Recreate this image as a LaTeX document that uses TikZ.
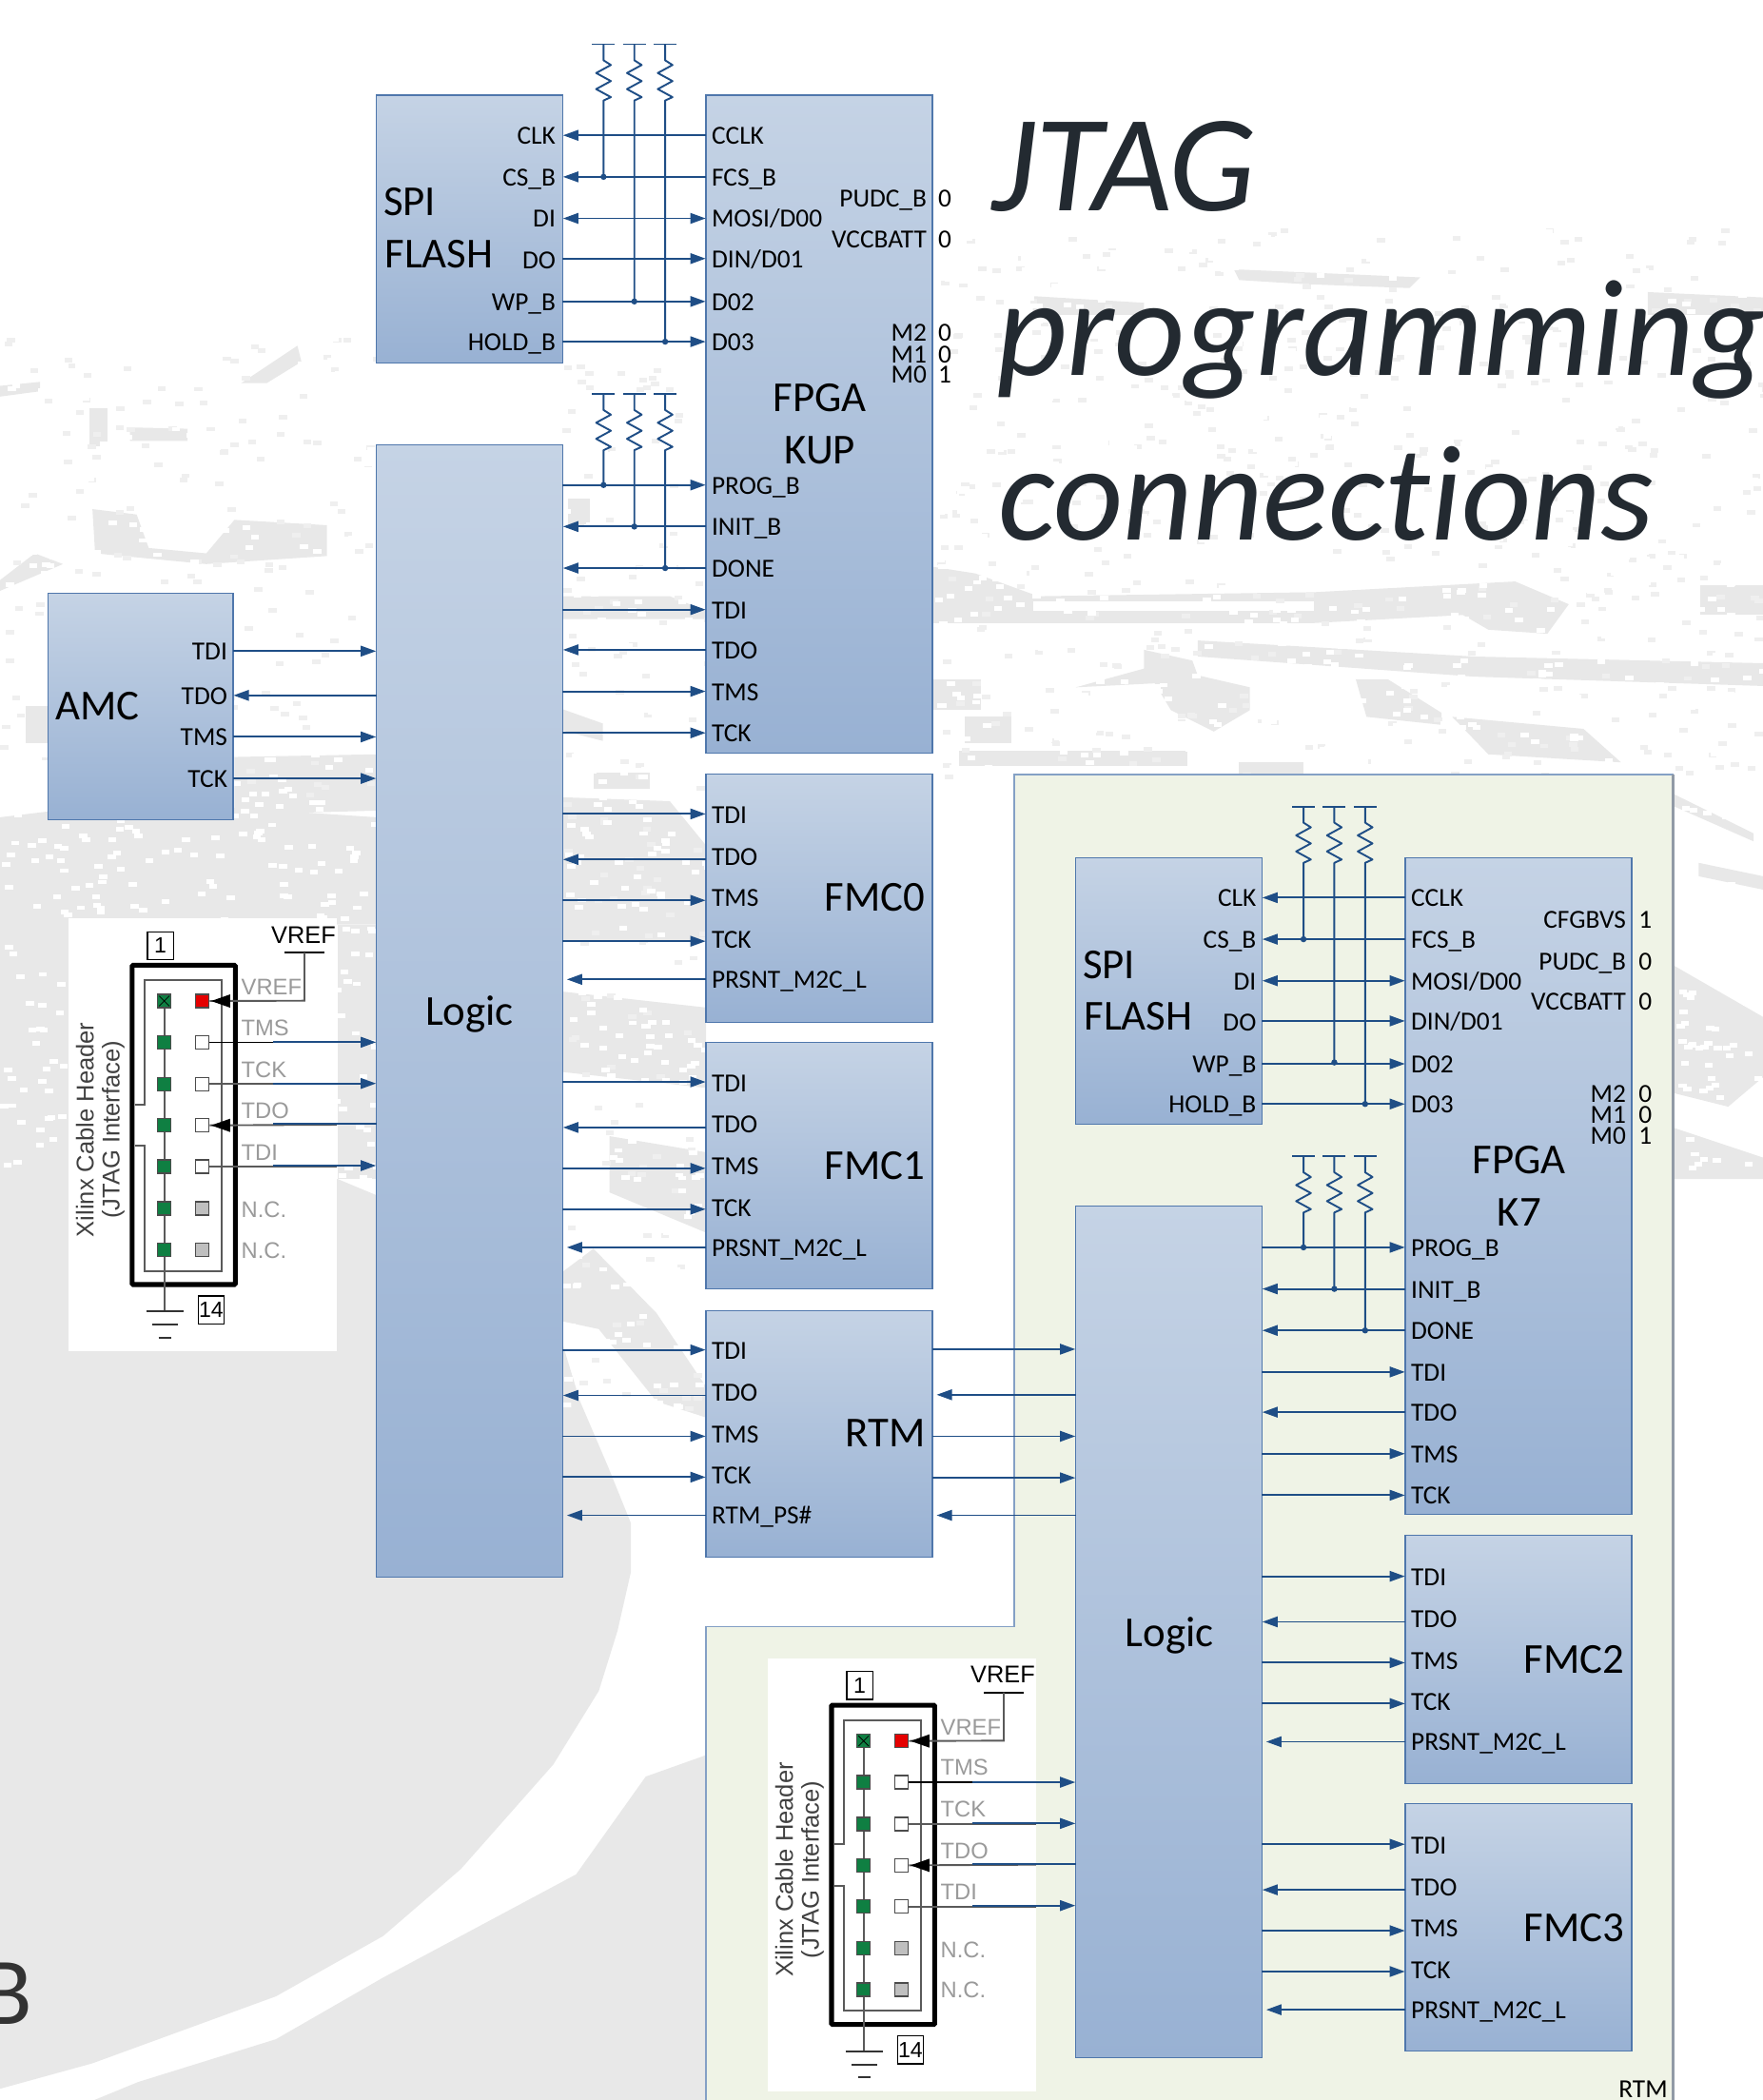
\documentclass[tikz,border=0pt]{standalone}
\usepackage{fontspec}
\setmainfont{Carlito}
\newfontfamily\hfont{Liberation Sans}
\usetikzlibrary{arrows.meta,fit,calc}
\definecolor{wire}{HTML}{1F4E86}
\definecolor{btop}{HTML}{C5D3E5}
\definecolor{bbot}{HTML}{98B1D3}
\definecolor{bedge}{HTML}{4F77AC}
\definecolor{panel}{HTML}{EFF3E6}
\definecolor{bgg}{HTML}{E8E8E8}
\definecolor{hgray}{HTML}{5A5A5A}
\definecolor{hlab}{HTML}{9A9A9A}
\definecolor{hgreen}{HTML}{0F7F42}
\definecolor{ttlc}{HTML}{232A31}
\tikzset{
  block/.style={shade,top color=btop,bottom color=bbot,draw=bedge,line width=.6pt,inner sep=0pt,outer sep=0pt},
  conn/.style={draw=wire,line width=.95pt},
  ar/.style={conn,-{Triangle[length=8pt,width=5.5pt]},shorten >=.2pt},
  arg/.style={conn,-{Triangle[length=8pt,width=5.5pt]},shorten >=2.2pt},
  arb/.style={conn,{Triangle[length=8pt,width=5.5pt]}-{Triangle[length=8pt,width=5.5pt]},shorten >=.2pt,shorten <=.2pt},
  junc/.style={circle,fill=wire,inner sep=0pt,minimum size=3.2pt},
  pl/.style={anchor=west,inner sep=0pt,font=\fontsize{13.6}{14}\selectfont,text height=13pt,text depth=3.6pt},
  pr/.style={anchor=east,inner sep=0pt,font=\fontsize{13.6}{14}\selectfont,text height=13pt,text depth=3.6pt},
  ml/.style={anchor=west,inner sep=0pt,font=\fontsize{13.6}{14}\selectfont,text height=9.4pt,text depth=0pt},
  mr/.style={anchor=east,inner sep=0pt,font=\fontsize{13.6}{14}\selectfont,text height=9.4pt,text depth=0pt},
  big/.style={inner sep=0pt,font=\fontsize{22.3}{24}\selectfont,text height=14.6pt,text depth=.5pt},
  bg/.style={fill=bgg,draw=none},
  hbox/.style={draw=black,line width=.6pt,inner sep=0pt,minimum width=13.5pt,minimum height=14.5pt,font=\hfont\fontsize{11.5}{11}\selectfont},
  hl/.style={anchor=west,inner sep=0pt,text=hlab,font=\hfont\fontsize{11.8}{12}\selectfont},
  pg/.style={draw=black!70,fill=hgreen,line width=.6pt,minimum size=7pt,inner sep=0pt},
  pw/.style={draw=black!70,fill=white,line width=.6pt,minimum size=7pt,inner sep=0pt},
  pn/.style={draw=black!70,fill=black!25,line width=.6pt,minimum size=7pt,inner sep=0pt},
  pd/.style={draw=black!70,fill=red!90!black,line width=.6pt,minimum size=7pt,inner sep=0pt},
  lw/.style={draw=hgray,line width=.95pt},
  ttl/.style={anchor=base west,inner sep=0pt,text=ttlc}
}
\newfontfamily\ttlfont[Ligatures=NoCommon]{Carlito}
\newcommand\blk[5]{\node[block,fit={(#2,#3)(#4,#5)}] (#1) {};}
% pull-up: name, x, bar y, pin node
\newcommand\pull[4]{%
  \coordinate (#1t) at (#2,#3);
  \coordinate (#1j) at (#2,#4);
  \draw[conn] ($(#1t)+(-8.5,0)$) -- ($(#1t)+(8.5,0)$);
  \draw[conn,line join=round] (#1t) -- ++(0,12) -- ++(5.5,3.5) -- ++(-11,6) -- ++(11,6) -- ++(-11,6) -- ++(11,6) -- ++(-5.5,2.5) -- (#1j);
  \node[junc] at (#1j) {};
}
% Xilinx header
\newcommand\xheader[3]{%
\begin{scope}[shift={(#2,#3)},x=.1657pt,y=-.1657pt]
  \fill[white] (37,45) rectangle (882,1410);
  \node[hbox] at (326,131) {1};
  \node[hbox] at (486,1280) {14};
  \draw[black,line width=2.5pt,rounded corners=.5pt] (237,193) rectangle (562,1200);
  \draw[lw] (245,632) -- (277,632) -- (277,240) -- (520,240) -- (520,1157) -- (277,1157) -- (277,762) -- (245,762);
  \draw[lw] (338,306) -- (338,1285);
  \draw[black!80,line width=.9pt] (282,1285) -- (398,1285) (300,1327) -- (380,1327) (320,1367) -- (360,1367);
  \foreach \n/\y in {1/306,2/436,3/568,4/698,5/828,6/960,7/1090} \node[pg] (#1l\n) at (338,\y) {};
  \draw[black,line width=.4pt] (322,290) -- (354,322) (322,322) -- (354,290);
  \node[pd] (#1VR) at (458,306) {};
  \node[pw] (#1TMS) at (458,436) {};
  \node[pw] (#1TCK) at (458,568) {};
  \node[pw] (#1TDO) at (458,698) {};
  \node[pw] (#1TDI) at (458,828) {};
  \node[pn] (#1NCa) at (458,960) {};
  \node[pn] (#1NCb) at (458,1090) {};
  \draw[black,line width=1.1pt] (718,153) -- (842,153);
  \coordinate (#1vt) at (780,153);
  \draw[lw] (#1vt) -- (780,305) -- (#1VR.east);
  \fill[black] (#1VR.east) ++(5,0) -- ++(60,-21) -- ++(0,42) -- cycle;
  \draw[black,line width=.7pt] (#1TMS.east) -- (682,436);
  \draw[lw] (#1TCK.east) -- (882,568);
  \draw[lw] (#1TDO.east) -- (882,696);
  \fill[black] (#1TDO.east) ++(5,0) -- ++(60,-21) -- ++(0,42) -- cycle;
  \draw[lw] (#1TDI.east) -- (882,828);
  \coordinate (#1bTMS) at (682,436);
  \coordinate (#1bTCK) at (682,566);
  \coordinate (#1bTDO) at (682,694);
  \coordinate (#1bTDI) at (682,825);
  \node[anchor=center,inner sep=0pt,font=\hfont\fontsize{12.6}{13}\selectfont] at (777,97) {VREF};
  \node[hl] at (580,262) {VREF};
  \node[hl] at (580,390) {TMS};
  \node[hl] at (580,522) {TCK};
  \node[hl] at (580,652) {TDO};
  \node[hl] at (580,783) {TDI};
  \node[hl] at (580,965) {N.C.};
  \node[hl] at (580,1092) {N.C.};
  \node[rotate=90,inner sep=0pt,text=black!75,font=\hfont\fontsize{12.7}{13}\selectfont] at (88,712) {Xilinx Cable Header};
  \node[rotate=90,inner sep=0pt,text=black!75,font=\hfont\fontsize{12.7}{13}\selectfont] at (177,712) {(JTAG Interface)};
\end{scope}}
\begin{document}
\begin{tikzpicture}[x=.7pt,y=-.7pt]
\useasboundingbox (0,0) rectangle (1316,1567.4);
\clip (0,0) rectangle (1316,1567.4);
\fill[white] (0,0) rectangle (1316,1567.4);
% ---------- background map ----------
% solid lower-left land
\fill[bg] (0,880) -- (252,880) -- (300,900) -- (419,1000) -- (433,1046) -- (454,1095) -- (471,1137) -- (471,1173) -- (461,1217) -- (447,1262) -- (413,1317) -- (344,1395) -- (286,1445) -- (206,1490) -- (69,1540) -- (0,1559) -- cycle;
\fill[bg] (527,1310) -- (482,1326) -- (430,1399) -- (344,1445) -- (286,1476) -- (206,1522) -- (103,1554) -- (69,1568) -- (527,1568) -- cycle;
\begin{scope}
\clip (0,200) rectangle (1316,880) (419,880) rectangle (527,1215);
% left
\fill[bg] (0,610) -- (100,598) -- (281,610) -- (281,690) -- (51,690) -- (51,880) -- (0,880) -- cycle;
\fill[bg] (252,690) -- (281,690) -- (281,880) -- (252,880) -- cycle;
\fill[bg] (175,565) -- (281,563) -- (281,605) -- (175,608) -- cycle;
\fill[bg] (67,305) -- (80,305) -- (80,333) -- (67,333) -- cycle;
\fill[bg] (180,286) -- (222,258) -- (225,270) -- (199,286) -- cycle;
\fill[bg] (97,319) -- (140,320) -- (140,329) -- (97,329) -- cycle;
\fill[bg] (69,380) -- (102,384) -- (111,409) -- (154,413) -- (175,388) -- (244,392) -- (244,415) -- (154,421) -- (71,413) -- cycle;
\fill[bg] (26,413) -- (47,421) -- (0,441) -- (0,433) -- cycle;
\fill[bg] (19,527) -- (36,527) -- (36,555) -- (19,555) -- cycle;
\fill[bg] (0,288) -- (30,285) -- (30,292) -- (0,296) -- cycle;
% between blocks
\fill[bg] (424,372) -- (440,372) -- (440,393) -- (424,393) -- cycle;
\fill[bg] (419,445) -- (500,445) -- (527,456) -- (527,462) -- (419,462) -- cycle;
\fill[bg] (419,529) -- (450,540) -- (450,553) -- (419,545) -- cycle;
\fill[bg] (443,577) -- (485,577) -- (485,589) -- (443,589) -- cycle;
\fill[bg] (419,595) -- (500,598) -- (527,631) -- (527,703) -- (419,703) -- cycle;
\fill[bg] (419,740) -- (527,752) -- (527,812) -- (419,800) -- cycle;
\fill[bg] (455,848) -- (527,860) -- (527,920) -- (455,890) -- cycle;
\fill[bg] (419,950) -- (443,932) -- (490,980) -- (527,1035) -- (527,1058) -- (490,1046) -- (447,992) -- (419,986) -- cycle;
% upper right
\fill[bg] (933,173) -- (949,178) -- (1028,183) -- (1028,190) -- (973,187) -- (937,198) -- cycle;
\fill[bg] (921,201) -- (1060,207) -- (1052,215) -- (973,212) -- (925,209) -- cycle;
\fill[bg] (1230,218) -- (1316,222) -- (1316,235) -- (1230,235) -- cycle;
\fill[bg] (771,221) -- (854,226) -- (854,235) -- (771,235) -- cycle;
\fill[bg] (696,423) -- (728,428) -- (775,445) -- (981,442) -- (1131,434) -- (1171,451) -- (1155,473) -- (1111,470) -- (1092,459) -- (981,465) -- (736,465) -- (696,465) -- cycle;
\fill[white] (771,449) -- (981,449) -- (981,456) -- (771,456) -- cycle;
\fill[bg] (894,478) -- (1100,490) -- (1316,495) -- (1316,512) -- (1100,505) -- (894,490) -- cycle;
\fill[bg] (1269,437) -- (1316,437) -- (1316,459) -- (1269,459) -- cycle;
\fill[bg] (1012,507) -- (1036,507) -- (1076,532) -- (1076,541) -- (1020,535) -- cycle;
\fill[bg] (854,485) -- (890,493) -- (894,504) -- (933,513) -- (933,530) -- (906,546) -- (874,530) -- (862,510) -- (803,513) -- (854,499) -- cycle;
\fill[bg] (1084,535) -- (1182,544) -- (1210,569) -- (1111,563) -- cycle;
\fill[bg] (696,507) -- (732,507) -- (732,530) -- (696,530) -- cycle;
\fill[bg] (720,535) -- (755,535) -- (755,555) -- (720,555) -- cycle;
\fill[bg] (716,560) -- (886,560) -- (886,572) -- (716,572) -- cycle;
\fill[bg] (925,569) -- (973,569) -- (973,578) -- (925,578) -- cycle;
% right margin
\fill[bg] (1250,593) -- (1309,622) -- (1309,628) -- (1250,602) -- cycle;
\fill[bg] (1268,644) -- (1316,654) -- (1316,664) -- (1268,654) -- cycle;
\fill[bg] (1250,721) -- (1316,759) -- (1316,804) -- (1290,826) -- (1250,816) -- cycle;
\fill[bg] (1250,842) -- (1316,864) -- (1316,893) -- (1302,934) -- (1250,915) -- cycle;
\end{scope}
\pgfmathsetseed{11}
\foreach \xa/\ya/\xb/\yb/\c/\m in {
  0/250/281/600/bgg!70!white/150,
  420/270/527/1050/bgg!70!white/120,
  696/170/1316/580/bgg!70!white/500,
  0/250/281/880/white/600,
  420/270/527/1050/white/350,
  696/170/1316/580/white/900,
  1250/590/1316/940/white/120}{
  \foreach \i in {1,...,\m}{
    \pgfmathsetmacro\px{\xa+rnd*(\xb-\xa)}
    \pgfmathsetmacro\py{\ya+rnd*(\yb-\ya)}
    \fill[\c] (\px,\py) rectangle ++(6,3.5);
  }
}
% ---------- big text ----------
\node[ttl,font=\ttlfont\itshape\fontsize{72}{72}\selectfont] (t1) at (740,157) {JTAG};
\node[ttl,font=\ttlfont\itshape\fontsize{72}{72}\selectfont] (t2) at (743.5,280) {programming};
\node[ttl,font=\ttlfont\itshape\fontsize{71}{71}\selectfont] (t3) at (745,403) {connections};
\node[anchor=base west,inner sep=0pt,text=black!80,font=\fontsize{50}{50}\selectfont] (bb) at (-15,1511) {B};
% ---------- RTM panel ----------
\draw[fill=panel,draw=bedge!70!white,line width=.7pt] (757,578) -- (1249,578) -- (1249,1575) -- (527,1575) -- (527,1214) -- (757,1214) -- cycle;
\draw[draw=bedge!45!black!50!white,line width=1.3pt] (1249,578) -- (1249,1575);
\node[ml] (rtmtag) at (1208,1559) {RTM};
% ---------- header images ----------
\xheader{ha}{42.6}{674.7}
\xheader{hb}{564.6}{1227}
% ---------- blocks, KUP side ----------
\blk{spi}{281}{71}{420}{271}
\blk{kup}{527}{71}{696}{562}
\blk{logic}{281}{332}{420}{1177}
\blk{amc}{36}{443}{174}{612}
\blk{fmcz}{527}{578}{696}{763}
\blk{fmco}{527}{778}{696}{962}
\blk{rtm}{527}{978}{696}{1162}
% ---------- blocks, K7 side ----------
\blk{spib}{803}{640}{942}{839}
\blk{ksev}{1049}{640}{1218}{1130}
\blk{logicb}{803}{900}{942}{1536}
\blk{fmct}{1049}{1146}{1218}{1331}
\blk{fmcd}{1049}{1346}{1218}{1531}
% big labels
\node[big,anchor=west] at (286,151) {SPI};
\node[big,anchor=west] at (287,190) {FLASH};
\node[big] at (612,297) {FPGA};
\node[big] at (612,336) {KUP};
\node[big] at (350.5,755) {Logic};
\node[big,anchor=west] at (41,527) {AMC};
\node[big,anchor=east] at (691,670) {FMC0};
\node[big,anchor=east] at (691,870) {FMC1};
\node[big,anchor=east] at (691,1070) {RTM};
\node[big,anchor=west] at (808,720) {SPI};
\node[big,anchor=west] at (809,759) {FLASH};
\node[big] at (1134,866) {FPGA};
\node[big] at (1134,905) {K7};
\node[big] at (873,1219) {Logic};
\node[big,anchor=east] at (1213,1239) {FMC2};
\node[big,anchor=east] at (1213,1439) {FMC3};
% ---------- pin labels ----------
\foreach \n/\t/\y in {CCLK/CCLK/101,FCS/FCS\_B/132,MOSI/{MOSI/D00}/163,DIN/{DIN/D01}/193,Dtwo/D02/225,Dthree/D03/255,PROG/PROG\_B/362,INIT/INIT\_B/393,DONE/DONE/424,TDI/TDI/455,TDO/TDO/485,TMS/TMS/516,TCK/TCK/547}{
  \node[pl] (a\n) at (531,\y) {\t};
  \pgfmathsetmacro\yy{\y+569}
  \node[pl] (b\n) at (1053,\yy) {\t};
}
\foreach \n/\t/\y in {CLK/CLK/101,CS/CS\_B/132,DI/DI/163,DO/DO/194,WP/WP\_B/225,HOLD/HOLD\_B/255}{
  \node[pr] (s\n) at (415,\y) {\t};
  \pgfmathsetmacro\yy{\y+569}
  \node[pr] (t\n) at (938,\yy) {\t};
}
\foreach \n/\t/\y/\v in {PUDC/PUDC\_B/148/0,VCC/VCCBATT/178/0}{
  \node[pr] (a\n) at (692,\y) {\t};
  \node[pl] (av\n) at (700,\y) {\v};
}
\foreach \n/\t/\y/\v in {Mtwo/M2/248/0,Mone/M1/264/0,Mzero/M0/279/1}{
  \node[mr] (a\n) at (692,\y) {\t};
  \node[ml] (av\n) at (700,\y) {\v};
}
\foreach \n/\t/\y/\v in {CFG/CFGBVS/686/1,PUDC/PUDC\_B/717/0,VCC/VCCBATT/747/0}{
  \node[pr] (b\n) at (1214,\y) {\t};
  \node[pl] (bv\n) at (1223,\y) {\v};
}
\foreach \n/\t/\y/\v in {Mtwo/M2/816/0,Mone/M1/832/0,Mzero/M0/847/1}{
  \node[mr] (b\n) at (1214,\y) {\t};
  \node[ml] (bv\n) at (1223,\y) {\v};
}
\foreach \n/\t/\y in {TDI/TDI/486,TDO/TDO/519,TMS/TMS/550,TCK/TCK/581}{
  \node[pr] (m\n) at (170,\y) {\t};
}
% FMC style rows
\foreach \p/\o/\last in {c/0/PRSNT\_M2C\_L,d/200/PRSNT\_M2C\_L,e/400/RTM\_PS\#}{
  \foreach \n/\t/\y in {TDI/TDI/608,TDO/TDO/639,TMS/TMS/670,TCK/TCK/701,PR/\last/731}{
    \pgfmathsetmacro\yy{\y+\o}
    \node[pl] (\p\n) at (531,\yy) {\t};
  }
}
\foreach \p/\o in {f/0,g/200}{
  \foreach \n/\t/\y in {TDI/TDI/1177,TDO/TDO/1208,TMS/TMS/1239,TCK/TCK/1270,PR/PRSNT\_M2C\_L/1300}{
    \pgfmathsetmacro\yy{\y+\o}
    \node[pl] (\p\n) at (1053,\yy) {\t};
  }
}
% ---------- connectors, SPI to FPGA ----------
\draw[ar] (aCCLK.west -| kup.west) -- (aCCLK.west -| spi.east);
\draw[ar] (aFCS.west -| kup.west) -- (aFCS.west -| spi.east);
\draw[arb] (aMOSI.west -| spi.east) -- (aMOSI.west -| kup.west);
\draw[ar] (aDIN.west -| spi.east) -- (aDIN.west -| kup.west);
\draw[ar] (aDtwo.west -| spi.east) -- (aDtwo.west -| kup.west);
\draw[ar] (aDthree.west -| spi.east) -- (aDthree.west -| kup.west);
\draw[ar] (bCCLK.west -| ksev.west) -- (bCCLK.west -| spib.east);
\draw[ar] (bFCS.west -| ksev.west) -- (bFCS.west -| spib.east);
\draw[arb] (bMOSI.west -| spib.east) -- (bMOSI.west -| ksev.west);
\draw[ar] (bDIN.west -| spib.east) -- (bDIN.west -| ksev.west);
\draw[ar] (bDtwo.west -| spib.east) -- (bDtwo.west -| ksev.west);
\draw[ar] (bDthree.west -| spib.east) -- (bDthree.west -| ksev.west);
% ---------- pull-ups ----------
\pull{ra}{450.5}{33}{132}
\pull{rb}{473.5}{33}{225}
\pull{rc}{496.5}{33}{255}
\pull{rd}{450.5}{294}{362}
\pull{re}{473.5}{294}{393}
\pull{rf}{496.5}{294}{424}
\pull{rg}{973}{602}{701}
\pull{rh}{996}{602}{793}
\pull{ri}{1019}{602}{824}
\pull{rj}{973}{863}{931}
\pull{rk}{996}{863}{962}
\pull{rl}{1019}{863}{993}
% ---------- logic to FPGA ----------
\foreach \p in {aPROG,aTDI,aTMS,aTCK} \draw[ar] (\p.west -| logic.east) -- (\p.west -| kup.west);
\foreach \p in {aINIT,aDONE,aTDO} \draw[ar] (\p.west -| kup.west) -- (\p.west -| logic.east);
\foreach \p in {bPROG,bTDI,bTMS,bTCK} \draw[ar] (\p.west -| logicb.east) -- (\p.west -| ksev.west);
\foreach \p in {bINIT,bDONE,bTDO} \draw[ar] (\p.west -| ksev.west) -- (\p.west -| logicb.east);
% AMC
\foreach \p in {mTDI,mTMS,mTCK} \draw[ar] (\p.east -| amc.east) -- (\p.east -| logic.west);
\draw[ar] (mTDO.east -| logic.west) -- (mTDO.east -| amc.east);
% FMC0, FMC1, RTM
\foreach \p/\b in {c/fmcz,d/fmco,e/rtm}{
  \foreach \n/\dd in {TDI/-.5,TMS/2,TCK/1.5} \draw[ar] ($(\p\n.west -| logic.east)+(0,\dd)$) -- ($(\p\n.west -| \b.west)+(0,\dd)$);
  \draw[ar] ($(\p TDO.west -| \b.west)+(0,2.5)$) -- ($(\p TDO.west -| logic.east)+(0,2.5)$);
  \draw[arg] (\p PR.west -| \b.west) -- (\p PR.west -| logic.east);
}
% FMC2, FMC3
\foreach \p/\b in {f/fmct,g/fmcd}{
  \foreach \n/\dd in {TDI/-.5,TMS/2,TCK/1.5} \draw[ar] ($(\p\n.west -| logicb.east)+(0,\dd)$) -- ($(\p\n.west -| \b.west)+(0,\dd)$);
  \draw[ar] ($(\p TDO.west -| \b.west)+(0,2.5)$) -- ($(\p TDO.west -| logicb.east)+(0,2.5)$);
  \draw[arg] (\p PR.west -| \b.west) -- (\p PR.west -| logicb.east);
}
% RTM to K7 logic
\coordinate (rr1) at (696,1007);
\coordinate (rr2) at (696,1041);
\coordinate (rr3) at (696,1072);
\coordinate (rr4) at (696,1103);
\coordinate (rr5) at (696,1131);
\foreach \c in {rr1,rr3,rr4} \draw[ar] (\c) -- (\c -| logicb.west);
\foreach \c in {rr2,rr5} \draw[arg] (\c -| logicb.west) -- (\c);
% header to logic
\foreach \p/\l in {ha/logic,hb/logicb}{
  \draw[ar] (\p bTMS) -- (\p bTMS -| \l.west);
  \draw[ar] (\p bTCK) -- (\p bTCK -| \l.west);
  \draw[conn] (\p bTDO -| \l.west) -- (\p bTDO);
  \draw[ar] (\p bTDI) -- (\p bTDI -| \l.west);
}
\end{tikzpicture}
\end{document}
